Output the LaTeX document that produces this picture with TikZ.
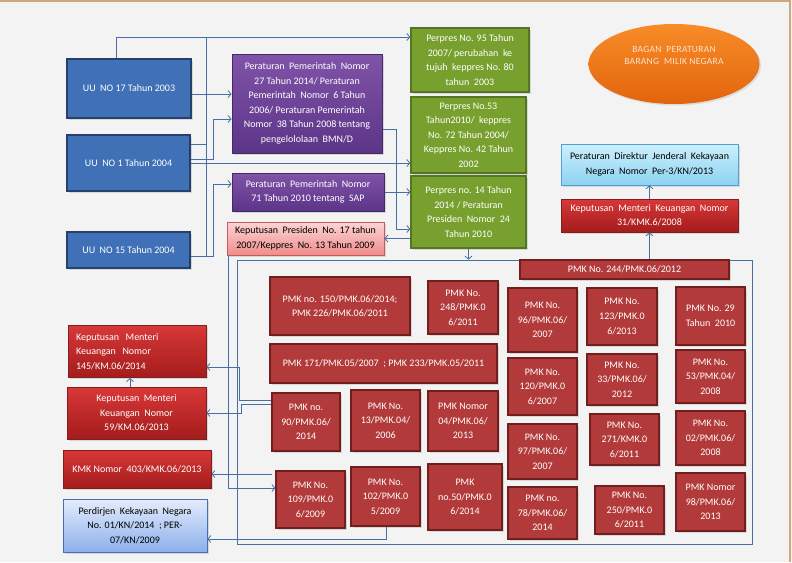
\documentclass[tikz,border=0pt]{standalone}
\usepackage{fontspec}
\setmainfont{Carlito}
\newfontfamily\judulfont[LetterSpace=3]{Carlito}
\usepackage{xcolor}
\usetikzlibrary{calc, arrows.meta, positioning, shapes.geometric, shadows}

\definecolor{bgGray}{RGB}{243,243,243}
\definecolor{edgeTan}{RGB}{205,170,120}
\definecolor{linkBlue}{RGB}{70,112,165}
\definecolor{uuFill}{RGB}{64,112,182}
\definecolor{uuDraw}{RGB}{38,64,110}
\definecolor{ppTop}{RGB}{128,84,168}
\definecolor{ppBot}{RGB}{92,52,136}
\definecolor{ppDraw}{RGB}{66,42,98}
\definecolor{gFill}{RGB}{120,160,46}
\definecolor{gDraw}{RGB}{84,118,34}
\definecolor{orTop}{RGB}{248,140,40}
\definecolor{orBot}{RGB}{226,100,12}
\definecolor{orText}{RGB}{252,228,205}
\definecolor{kmkTop}{RGB}{216,56,56}
\definecolor{kmkBot}{RGB}{164,28,28}
\definecolor{kmkDraw}{RGB}{130,30,30}
\definecolor{pmkFill}{RGB}{178,58,58}
\definecolor{pmkDraw}{RGB}{112,30,30}
\definecolor{pinkTop}{RGB}{252,212,212}
\definecolor{pinkBot}{RGB}{240,140,140}
\definecolor{pinkDraw}{RGB}{200,90,90}
\definecolor{skyTop}{RGB}{205,240,252}
\definecolor{skyBot}{RGB}{140,210,240}
\definecolor{skyDraw}{RGB}{80,160,210}
\definecolor{paleTop}{RGB}{228,236,252}
\definecolor{paleBot}{RGB}{140,175,235}
\definecolor{paleDraw}{RGB}{70,110,180}

\begin{document}
\begin{tikzpicture}[x=1pt, y=-1pt, >={Straight Barb[length=3pt, width=7pt]}, font=\fontsize{10}{14.5}\selectfont]
	\tikzstyle{box} = [rectangle, draw, align=center, inner sep=1pt, text=white, drop shadow={opacity=0.25, shadow xshift=1.5pt, shadow yshift=-1.5pt}]
	\tikzstyle{uu} = [box, fill=uuFill, draw=uuDraw, line width=1.6pt]
	\tikzstyle{pp} = [box, top color=ppTop, bottom color=ppBot, draw=ppDraw, line width=1pt]
	\tikzstyle{perpres} = [box, fill=gFill, draw=gDraw, line width=1.4pt]
	\tikzstyle{kmk} = [box, top color=kmkTop, bottom color=kmkBot, draw=kmkDraw, line width=0.8pt]
	\tikzstyle{pmk} = [box, fill=pmkFill, draw=pmkDraw, line width=1.2pt]
	\tikzstyle{keppres} = [box, top color=pinkTop, bottom color=pinkBot, draw=pinkDraw, text=black, line width=0.8pt]
	\tikzstyle{dirjen} = [box, top color=skyTop, bottom color=skyBot, draw=skyDraw, text=black, line width=0.8pt]
	\tikzstyle{perdir} = [box, top color=paleTop, bottom color=paleBot, draw=paleDraw, text=black, line width=0.8pt]
	\tikzstyle{judul} = [ellipse, top color=orTop, bottom color=orBot, inner sep=0pt, align=center, text=orText, font=\judulfont\fontsize{9.5}{12.5}\selectfont, drop shadow={opacity=0.2, shadow xshift=1.5pt, shadow yshift=-1.5pt}]
	\tikzstyle{link} = [draw=linkBlue, line width=0.8pt]
	
	\fill[bgGray] (0,0) rectangle (792,562);
	\useasboundingbox (0,0) rectangle (792,562);
	\draw[edgeTan, line width=2pt] (0,1) -- (790,1) -- (790,562);
	
	% undang-undang
	\node[uu, minimum width=124, minimum height=59]		at (129, 88.5)		(uu17)		{UU~ NO 17 Tahun 2003};
	\node[uu, minimum width=123, minimum height=56]		at (128.5, 163)		(uu1)		{UU~ NO 1 Tahun 2004};
	\node[uu, minimum width=123, minimum height=36]		at (128.5, 250)		(uu15)		{UU~ NO 15 Tahun 2004};
	
	% peraturan pemerintah / keppres
	\node[pp, minimum width=150, minimum height=99]		at (307, 103.5)		(pp)		{Peraturan~ Pemerintah~ Nomor\\27 Tahun 2014/ Peraturan\\Pemerintah~ Nomor~ 6 Tahun\\2006/ Peraturan Pemerintah\\Nomor~ 38 Tahun 2008 tentang\\pengelololaan~ BMN/D};
	\node[pp, minimum width=152, minimum height=38]		at (308, 192)		(pp71)		{Peraturan~ Pemerintah~ Nomor\\71 Tahun 2010 tentang~ SAP};
	\node[keppres, minimum width=157, minimum height=33]	at (305.5, 238.5)	(kp)		{Keputusan~ Presiden~ No. 17 tahun\\2007/Keppres~ No. 13 Tahun 2009};
	
	% perpres
	\node[perpres, minimum width=118, minimum height=64]	at (470, 60)		(g1)		{Perpres No. 95 Tahun\\2007/ perubahan~ ke\\tujuh~ keppres No. 80\\tahun~ 2003};
	\node[perpres, minimum width=115, minimum height=76]	at (468.5, 135)		(g2)		{Perpres No.53\\Tahun2010/~ keppres\\No. 72 Tahun 2004/\\Keppres No. 42 Tahun\\2002};
	\node[perpres, minimum width=115, minimum height=72]	at (468.5, 212)		(g3)		{Perpres no. 14 Tahun\\2014 / Peraturan\\Presiden~ Nomor~ 24\\Tahun 2010};
	
	\node[judul, minimum width=171, minimum height=80]	at (674, 64)		(judul)		{BAGAN~ PERATURAN\\BARANG~ MILIK NEGARA\\[5pt]};
	\node[dirjen, minimum width=177, minimum height=41]	at (649.5, 164.5)	(dj)		{Peraturan~ Direktur~ Jenderal~ Kekayaan\\Negara~ Nomor~ Per-3/KN/2013};
	\node[kmk, minimum width=177, minimum height=33]	at (649.5, 215.5)	(kmk31)		{Keputusan~ Menteri~ Keuangan~ Nomor\\31/KMK.6/2008};
	
	% kotak PMK
	\node[draw=linkBlue, line width=0.8pt, minimum width=515, minimum height=284, inner sep=0pt] at (494.5, 402) (frame) {};
	\node[pmk, minimum width=209, minimum height=19]	at (624.5, 269.5)	(p244)		{PMK No. 244/PMK.06/2012};
	\node[pmk, minimum width=140, minimum height=58]	at (340, 306)		(p150)		{PMK no. 150/PMK.06/2014;\\PMK 226/PMK.06/2011};
	\node[pmk, minimum width=227, minimum height=39]	at (383.5, 363.5)	(p171)		{PMK 171/PMK.05/2007~ ; PMK 233/PMK.05/2011};
	\node[pmk, minimum width=68, minimum height=58]		at (306, 422)		(p90)		{PMK no.\\90/PMK.06/\\2014};
	\node[pmk, minimum width=69, minimum height=61]		at (385.5, 420.5)	(p13)		{PMK No.\\13/PMK.04/\\2006};
	\node[pmk, minimum width=69, minimum height=57]		at (310.5, 499.5)	(p109)		{PMK No.\\109/PMK.0\\6/2009};
	\node[pmk, minimum width=69, minimum height=59]		at (385.5, 496.5)	(p102)		{PMK No.\\102/PMK.0\\5/2009};
	\node[pmk, minimum width=70, minimum height=53]		at (463, 307.5)		(p248)		{PMK No.\\248/PMK.0\\6/2011};
	\node[pmk, minimum width=70, minimum height=60]		at (463, 421)		(p04)		{PMK Nomor\\04/PMK.06/\\2013};
	\node[pmk, minimum width=74, minimum height=66]		at (465, 497)		(p50)		{PMK\\no.50/PMK.0\\6/2014};
	\node[pmk, minimum width=69, minimum height=64]		at (542.5, 320)		(p96)		{PMK No.\\96/PMK.06/\\2007};
	\node[pmk, minimum width=69, minimum height=57]		at (542.5, 386.5)	(p120)		{PMK No.\\120/PMK.0\\6/2007};
	\node[pmk, minimum width=69, minimum height=55]		at (542.5, 451.5)	(p97)		{PMK No.\\97/PMK.06/\\2007};
	\node[pmk, minimum width=69, minimum height=52]		at (542.5, 513)		(p78)		{PMK no.\\78/PMK.06/\\2014};
	\node[pmk, minimum width=70, minimum height=57]		at (622, 316.5)		(p123)		{PMK No.\\123/PMK.0\\6/2013};
	\node[pmk, minimum width=70, minimum height=51]		at (622, 379.5)		(p33)		{PMK No.\\33/PMK.06/\\2012};
	\node[pmk, minimum width=69, minimum height=51]		at (624.5, 439.5)	(p271)		{PMK No.\\271/KMK.0\\6/2011};
	\node[pmk, minimum width=69, minimum height=48]		at (629.5, 510)		(p250)		{PMK No.\\250/PMK.0\\6/2011};
	\node[pmk, minimum width=69, minimum height=58]		at (710.5, 316)		(p29)		{PMK No. 29\\Tahun~ 2010};
	\node[pmk, minimum width=69, minimum height=53]		at (710.5, 376.5)	(p53)		{PMK No.\\53/PMK.04/\\2008};
	\node[pmk, minimum width=69, minimum height=54]		at (710.5, 438)		(p02)		{PMK No.\\02/PMK.06/\\2008};
	\node[pmk, minimum width=69, minimum height=58]		at (710.5, 502)		(p98)		{PMK Nomor\\98/PMK.06/\\2013};
	
	% turunan di kiri
	\node[kmk, minimum height=51, text width=122pt, inner sep=8pt, align=left] at (137, 351.5) (kmk145) {Keputusan~ Menteri\\Keuangan~ Nomor\\145/KM.06/2014};
	\node[kmk, minimum width=139, minimum height=52]	at (136.5, 413)		(kmk59)		{Keputusan~ Menteri\\Keuangan~ Nomor\\59/KM.06/2013};
	\node[kmk, minimum width=148, minimum height=38]	at (137, 469)		(kmk403)	{KMK Nomor~ 403/KMK.06/2013};
	\node[perdir, minimum width=144, minimum height=53]	at (135, 525.5)		(perdir)	{Perdirjen~ Kekayaan~ Negara\\No. 01/KN/2014~ ; PER-\\07/KN/2009};
	
	% titik belok
	\coordinate (j1) at (116, 37);
	\coordinate (j2) at (206, 37);
	\coordinate (j3) at (206, 256);
	\coordinate (j4) at (206, 144);
	\coordinate (a1) at (213, 159);
	\coordinate (a2) at (213, 119);
	\coordinate (b1) at (213, 256);
	\coordinate (b2) at (213, 184);
	\coordinate (c1) at (396, 129);
	\coordinate (c2) at (396, 229);
	\coordinate (k1) at (228, 488);
	\coordinate (d1) at (239, 400);
	\coordinate (d2) at (239, 367);
	\coordinate (e1) at (241, 404);
	\coordinate (e2) at (241, 413);
	\coordinate (m1) at (272, 474);
	\coordinate (f1) at (386, 539);
	
	\draw[link, ->] (uu17.north -| j1) -- (j1) -- (j1 -| g1.west);
	\draw[link] (j2) -- (j3);
	\draw[link, ->] ([yshift=-5.5pt]uu17.east) -- ([yshift=-5.5pt]uu17.east -| pp.west);
	\draw[link] (uu1.east |- j4) -- (j4);
	\draw[link, ->] (uu1.east |- a1) -- (a1) -- (a2) -- (a2 -| pp.west);
	\draw[link, ->] (uu1.east) -- (uu1.east -| g2.west);
	\draw[link, ->] (uu15.east |- b1) -- (b1) -- (b2) -- (b2 -| pp71.west);
	\draw[link, ->] (pp.east |- c1) -- (c1) -- (c2) -- (c2 -| g3.west);
	\draw[link, ->] (pp71.east) -- (pp71.east -| g3.west);
	\draw[link, ->] (g3.west |- kp.east) -- (kp.east);
	\draw[link, ->] (g3.south) -- (g3.south |- frame.north);
	\draw[link, ->] (kmk31.south |- p244.north) -- (kmk31.south);
	\draw[link, ->] (kmk31.north) -- (dj.south);
	\draw[link, ->] (kp.south -| k1) -- (k1) -- (k1 -| p109.west);
	\draw[link, ->] (p90.west |- d1) -- (d1) -- (d2) -- (d2 -| kmk145.east);
	\draw[link, ->] (p90.west |- e1) -- (e1) -- (e2) -- (e2 -| kmk59.east);
	\draw[link, ->] (m1) -- (m1 -| kmk403.east);
	\draw[link, ->] (p102.south -| f1) -- (f1) -- (f1 -| perdir.east);
	\draw[link, ->] ([xshift=-6.5pt]kmk59.north) -- ([xshift=-6.5pt]kmk59.north |- kmk145.south);
\end{tikzpicture}
\end{document}
